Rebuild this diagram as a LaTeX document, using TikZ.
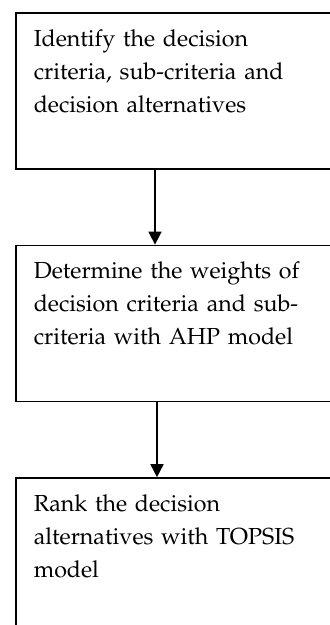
\documentclass[tikz,border=0pt]{standalone}
\usepackage[T1]{fontenc}
\usepackage{mathpazo}
\usetikzlibrary{positioning,arrows.meta}

\newcommand\stepfont{\fontsize{11.6}{16.5}\selectfont\spaceskip=0.19em\relax}

\tikzset{
  stepbox/.style={draw,line width=0.8pt,anchor=north west,align=left,text width=147pt,
    inner xsep=9pt,inner ysep=0pt,text height=16.75pt,text depth=61.25pt,font=\stepfont},
  flow/.style={draw,line width=0.8pt,-{Triangle[width=6.5pt,length=6.5pt]}}
}

\begin{document}
\begin{tikzpicture}
  \clip (0,0) rectangle (165pt,-312.5pt);

  \node [stepbox] (identify) at (7.5pt,-6pt) {Identify the decision\\ criteria, sub-criteria and\\ decision alternatives};
  \node [stepbox,below=37.5pt of identify] (weights) {Determine the weights of\\ decision criteria and sub-\\ criteria with AHP model};
  \node [stepbox,below=37.5pt of weights] (rank) {Rank the decision\\ alternatives with TOPSIS\\ model};

  \draw [flow] ([xshift=70pt]identify.south west) -- ([xshift=70pt]weights.north west);
  \draw [flow] ([xshift=71pt]weights.south west) -- ([xshift=71pt]rank.north west);
\end{tikzpicture}
\end{document}
